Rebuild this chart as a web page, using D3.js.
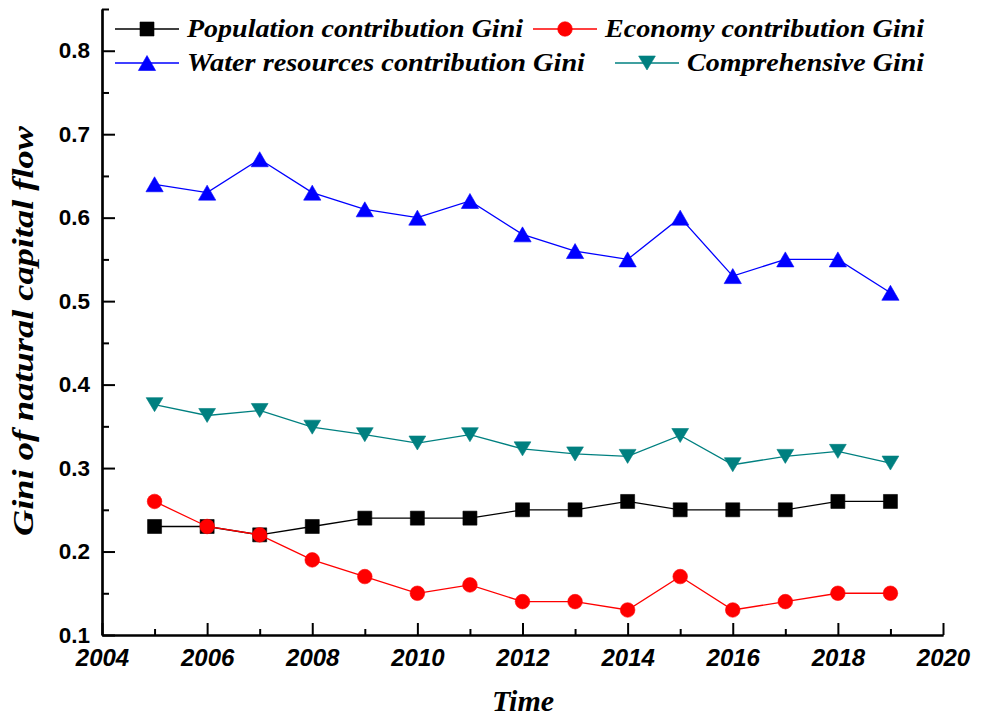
<!DOCTYPE html>
<html>
<head>
<meta charset="utf-8">
<script src="https://cdn.jsdelivr.net/npm/d3@7"></script>
<style>
  html, body { margin: 0; padding: 0; background: #fff; }
  svg { display: block; }
</style>
</head>
<body>
<script>
// Years on the horizontal axis
const years = [2005, 2006, 2007, 2008, 2009, 2010, 2011, 2012, 2013, 2014, 2015, 2016, 2017, 2018, 2019];

// Gini coefficients of natural capital flow, by contribution type
const populationGini    = [0.23, 0.23, 0.22, 0.23, 0.24, 0.24, 0.24, 0.25, 0.25, 0.26, 0.25, 0.25, 0.25, 0.26, 0.26];
const economyGini       = [0.26, 0.23, 0.22, 0.19, 0.17, 0.15, 0.16, 0.14, 0.14, 0.13, 0.17, 0.13, 0.14, 0.15, 0.15];
const waterGini         = [0.64, 0.63, 0.67, 0.63, 0.61, 0.60, 0.62, 0.58, 0.56, 0.55, 0.60, 0.53, 0.55, 0.55, 0.51];
const comprehensiveGini = [0.376, 0.363, 0.369, 0.349, 0.340, 0.330, 0.340, 0.323, 0.317, 0.314, 0.339, 0.304, 0.314, 0.320, 0.306];

const seriesNames = [
  "Population contribution Gini",
  "Economy contribution Gini",
  "Water resources contribution Gini",
  "Comprehensive Gini"
];

// Axis tick values
const xMajorTicks = [2004, 2006, 2008, 2010, 2012, 2014, 2016, 2018, 2020];
const xMinorTicks = [2005, 2007, 2009, 2011, 2013, 2015, 2017, 2019];
const yMajorTicks = [0.1, 0.2, 0.3, 0.4, 0.5, 0.6, 0.7, 0.8];
const yMinorTicks = [0.15, 0.25, 0.35, 0.45, 0.55, 0.65, 0.75, 0.85];

const xTitle = "Time";
const yTitle = "Gini of natural capital flow";

const W = 984, H = 718;
const plot = { left: 102, right: 943, top: 9, bottom: 635 };

const svg = d3.select("body").append("svg").attr("width", W).attr("height", H);

const x = d3.scaleLinear().domain([2004, 2020]).range([plot.left, plot.right]);
const y = d3.scaleLinear().domain([0.1, 0.85]).range([plot.bottom, plot.top]);

const tickFont = "'Liberation Sans', Arial, sans-serif";
const serifFont = "'Liberation Serif', 'Times New Roman', serif";

// ---- Axes (ticks point into the plot) ----
svg.append("g").attr("transform", `translate(0,${plot.bottom})`)
  .call(d3.axisBottom(x).tickValues(xMinorTicks).tickSize(-6).tickSizeOuter(0).tickFormat(""));
const xMajor = svg.append("g").attr("transform", `translate(0,${plot.bottom})`)
  .call(d3.axisBottom(x).tickValues(xMajorTicks).tickSize(-12).tickSizeOuter(0).tickPadding(14).tickFormat(d3.format("d")));

svg.append("g").attr("transform", `translate(${plot.left},0)`)
  .call(d3.axisLeft(y).tickValues(yMinorTicks).tickSize(-7).tickSizeOuter(0).tickFormat(""));
const yMajor = svg.append("g").attr("transform", `translate(${plot.left},0)`)
  .call(d3.axisLeft(y).tickValues(yMajorTicks).tickSize(-13).tickSizeOuter(0).tickPadding(12).tickFormat(d3.format(".1f")));

svg.selectAll(".domain").attr("stroke", "#000").attr("stroke-width", 2.2);
svg.selectAll(".tick line").attr("stroke", "#000").attr("stroke-width", 2);

xMajor.selectAll("text")
  .attr("font-family", tickFont).attr("font-size", 24).attr("font-weight", "bold")
  .attr("font-style", "italic").attr("fill", "#000").attr("dy", "0.71em");
yMajor.selectAll("text")
  .attr("font-family", tickFont).attr("font-size", 22.5).attr("font-weight", "bold")
  .attr("fill", "#000");

// ---- Axis titles ----
svg.append("text")
  .attr("x", 523).attr("y", 711)
  .attr("text-anchor", "middle")
  .attr("font-family", serifFont).attr("font-size", 30).attr("font-weight", "bold").attr("font-style", "italic")
  .text(xTitle);

svg.append("text")
  .attr("transform", `translate(33,331) rotate(-90)`)
  .attr("text-anchor", "middle")
  .attr("font-family", serifFont).attr("font-size", 30).attr("font-weight", "bold").attr("font-style", "italic")
  .attr("textLength", 410).attr("lengthAdjust", "spacingAndGlyphs")
  .text(yTitle);

// ---- Marker shapes ----
const markers = {
  square: r => `M${-r},${-r}H${r}V${r}H${-r}Z`,
  circle: r => `M${r},0A${r},${r},0,1,1,${-r},0A${r},${r},0,1,1,${r},0Z`,
  up: r => `M0,${-r}L${r * 1.15},${r}L${-r * 1.15},${r}Z`,
  down: r => `M0,${r}L${r * 1.2},${-r}L${-r * 1.2},${-r}Z`
};

const series = [
  { name: seriesNames[0], values: populationGini,    color: "#000000", marker: "square", r: 7 },
  { name: seriesNames[1], values: economyGini,       color: "#ff0000", marker: "circle", r: 7.3 },
  { name: seriesNames[2], values: waterGini,         color: "#0000ff", marker: "up",     r: 7.5 },
  { name: seriesNames[3], values: comprehensiveGini, color: "#008080", marker: "down",   r: 7 }
];

const line = d3.line().x((d, i) => x(years[i])).y(d => y(d));

series.forEach(s => {
  const g = svg.append("g");
  g.append("path")
    .attr("d", line(s.values))
    .attr("fill", "none").attr("stroke", s.color).attr("stroke-width", 1.3);
  g.selectAll("path.mark").data(s.values).enter().append("path")
    .attr("class", "mark")
    .attr("transform", (d, i) => `translate(${x(years[i])},${y(d)})`)
    .attr("d", markers[s.marker](s.r))
    .attr("fill", s.color).attr("stroke", s.color).attr("stroke-width", 0.6);
});

// ---- Legend (two rows) ----
const legendPos = [
  { lx: 115, ly: 29, tx: 187, len: 336 },
  { lx: 533, ly: 29, tx: 605, len: 319 },
  { lx: 115, ly: 63, tx: 187, len: 398 },
  { lx: 615, ly: 63, tx: 687, len: 237 }
];
series.forEach((s, i) => {
  const p = legendPos[i];
  const g = svg.append("g");
  g.append("line").attr("x1", p.lx).attr("x2", p.lx + 64).attr("y1", p.ly).attr("y2", p.ly)
    .attr("stroke", s.color).attr("stroke-width", 1.3);
  g.append("path").attr("transform", `translate(${p.lx + 32},${p.ly})`)
    .attr("d", markers[s.marker](s.r)).attr("fill", s.color).attr("stroke", s.color).attr("stroke-width", 0.6);
  g.append("text").attr("x", p.tx).attr("y", p.ly + 8)
    .attr("font-family", serifFont).attr("font-size", 25).attr("font-weight", "bold").attr("font-style", "italic")
    .attr("textLength", p.len).attr("lengthAdjust", "spacingAndGlyphs")
    .attr("fill", "#000")
    .text(s.name);
});
</script>
</body>
</html>
